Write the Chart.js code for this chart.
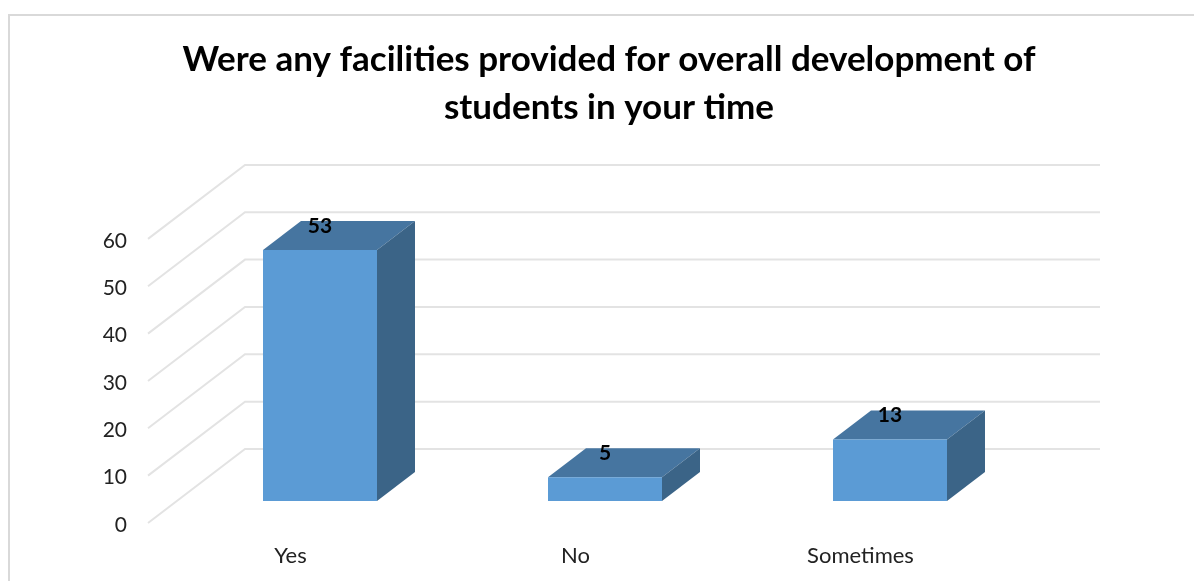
<!DOCTYPE html>
<html>
<head>
<meta charset="utf-8">
<title>Facilities chart</title>
<script src="https://cdn.jsdelivr.net/npm/chart.js@4"></script>
<style>
  html, body { margin: 0; padding: 0; background: #fff; overflow: hidden; }
  #wrap { position: relative; width: 1194px; height: 582px; }
</style>
</head>
<body>
<div id="wrap"><canvas id="chart" width="1194" height="582"></canvas></div>
<script>
var titleLines = ['Were any facilities provided for overall development of', 'students in your time'];
var categories = ['Yes', 'No', 'Sometimes'];
var values = [53, 5, 13];
var tickStep = 10;
var tickMax = 60;

// depth of the 3d look, in pixels
var wallDx = 97, wallDy = 74;
var barShiftX = 29.5, barShiftY = 22;
var sideDx = 38, sideDy = 29;

var frontColor = '#5b9bd5';
var topColor = '#4675a0';
var sideColor = '#3b6487';
var gridColor = '#e3e3e3';

// frame around the chart, open on the right and at the bottom
var framePlugin = {
  id: 'frame',
  beforeDraw: function(chart) {
    var ctx = chart.ctx;
    ctx.save();
    ctx.strokeStyle = '#d9d9d9';
    ctx.lineWidth = 2;
    ctx.beginPath();
    ctx.moveTo(1194, 15);
    ctx.lineTo(9, 15);
    ctx.lineTo(9, 581);
    ctx.stroke();
    ctx.restore();
  }
};

// side wall and back wall lines, taken from the y scale ticks
var wallsPlugin = {
  id: 'walls',
  beforeDatasetsDraw: function(chart) {
    var ctx = chart.ctx;
    var yScale = chart.scales.y;
    var area = chart.chartArea;
    ctx.save();
    ctx.strokeStyle = gridColor;
    ctx.lineWidth = 2;
    yScale.ticks.forEach(function(tick) {
      var y = yScale.getPixelForValue(tick.value);
      ctx.beginPath();
      ctx.moveTo(area.left, y);
      ctx.lineTo(area.left + wallDx, y - wallDy);
      ctx.lineTo(area.right + wallDx, y - wallDy);
      ctx.stroke();
    });
    ctx.restore();
  }
};

// moves the bars to mid depth and adds their top and side faces
var boxPlugin = {
  id: 'boxes',
  beforeDatasetDraw: function(chart) {
    var ctx = chart.ctx;
    var meta = chart.getDatasetMeta(0);
    ctx.save();
    ctx.translate(barShiftX, -barShiftY);
    meta.data.forEach(function(bar) {
      var left = bar.x - bar.width / 2;
      var right = bar.x + bar.width / 2;
      ctx.fillStyle = topColor;
      ctx.beginPath();
      ctx.moveTo(left, bar.y);
      ctx.lineTo(left + sideDx, bar.y - sideDy);
      ctx.lineTo(right + sideDx, bar.y - sideDy);
      ctx.lineTo(right, bar.y);
      ctx.closePath();
      ctx.fill();
      ctx.fillStyle = sideColor;
      ctx.beginPath();
      ctx.moveTo(right, bar.y);
      ctx.lineTo(right + sideDx, bar.y - sideDy);
      ctx.lineTo(right + sideDx, bar.base - sideDy);
      ctx.lineTo(right, bar.base);
      ctx.closePath();
      ctx.fill();
    });
  },
  afterDatasetDraw: function(chart) {
    chart.ctx.restore();
  },
  afterDatasetsDraw: function(chart) {
    var ctx = chart.ctx;
    var meta = chart.getDatasetMeta(0);
    ctx.save();
    ctx.fillStyle = '#000';
    ctx.font = 'bold 21px Lato';
    ctx.textAlign = 'center';
    ctx.textBaseline = 'middle';
    meta.data.forEach(function(bar, i) {
      ctx.fillText(values[i], bar.x + barShiftX, bar.y - barShiftY - 24);
    });
    ctx.restore();
  }
};

var chart = new Chart(document.getElementById('chart').getContext('2d'), {
  type: 'bar',
  data: {
    labels: categories,
    datasets: [{
      data: values,
      backgroundColor: frontColor,
      barPercentage: 0.4,
      categoryPercentage: 1
    }]
  },
  options: {
    responsive: false,
    animation: false,
    layout: { padding: { left: 24, right: 0, top: 0, bottom: 0 } },
    plugins: {
      legend: { display: false },
      tooltip: { enabled: false },
      title: {
        display: true,
        text: titleLines,
        color: '#000',
        font: { family: 'Lato', size: 35, weight: 'bold', lineHeight: 1.37 },
        padding: { top: 36, bottom: 107 }
      }
    },
    scales: {
      x: {
        grid: { display: false },
        border: { display: false },
        ticks: {
          maxRotation: 0,
          color: '#222',
          padding: 12,
          font: { family: 'Lato', size: 22 }
        },
        afterFit: function(scale) { scale.height = 59; }
      },
      y: {
        min: 0,
        max: tickMax,
        grid: { display: false },
        border: { display: false },
        ticks: {
          stepSize: tickStep,
          color: '#222',
          padding: 13,
          labelOffset: 2,
          font: { family: 'Lato', size: 21 }
        },
        afterFit: function(scale) { scale.width = 124; }
      },
      // empty axis, only keeps the room on the right for the back wall
      spacer: {
        position: 'right',
        grid: { display: false },
        border: { display: false },
        ticks: { display: false },
        afterFit: function(scale) { scale.width = 191; }
      }
    }
  },
  plugins: [framePlugin, wallsPlugin, boxPlugin]
});
</script>
</body>
</html>
